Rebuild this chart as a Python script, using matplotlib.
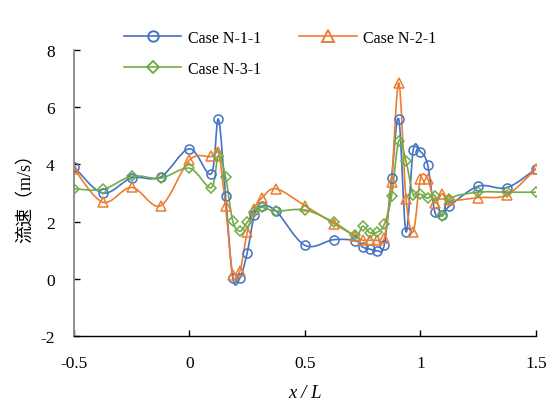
import matplotlib
matplotlib.use("Agg")
import matplotlib.pyplot as plt
import numpy as np
from matplotlib.path import Path
from matplotlib.patches import PathPatch
from matplotlib.lines import Line2D

plt.rcParams['font.family'] = ['Liberation Serif', 'Noto Sans CJK SC']
plt.rcParams['axes.unicode_minus'] = False

# ── Datos ─────────────────────────────────────────────────────────────────
x_n1 = [-0.5, -0.375, -0.25, -0.125, 0.0, 0.09375, 0.125, 0.15625, 0.1875, 0.21875,
        0.25, 0.28125, 0.3125, 0.375, 0.5, 0.625, 0.71875, 0.75, 0.78125, 0.8125,
        0.84375, 0.875, 0.90625, 0.9375, 0.96875, 1.0, 1.03125, 1.0625, 1.09375,
        1.125, 1.25, 1.375, 1.5]
v_n1 = [3.92, 3.0, 3.53, 3.56, 4.55, 3.67, 5.58, 2.9, 0.03, 0.03,
        0.91, 2.24, 2.54, 2.37, 1.17, 1.37, 1.33, 1.11, 1.04, 0.98,
        1.2, 3.53, 5.58, 1.65, 4.51, 4.45, 3.99, 2.33, 2.24,
        2.54, 3.24, 3.19, 3.85]
v_n2 = [3.85, 2.68, 3.2, 2.56, 4.16, 4.28, 4.45, 2.54, 0.12, 0.29,
        1.63, 2.45, 2.82, 3.15, 2.56, 1.93, 1.49, 1.35, 1.35, 1.35,
        1.42, 3.37, 6.85, 2.8, 1.65, 3.5, 3.5, 2.66, 2.98,
        2.74, 2.84, 2.94, 3.85]
v_n3 = [3.15, 3.13, 3.59, 3.52, 3.87, 3.19, 4.31, 3.56, 2.02, 1.67,
        1.98, 2.33, 2.5, 2.37, 2.41, 1.98, 1.52, 1.84, 1.61, 1.63,
        1.91, 2.9, 4.83, 4.11, 2.94, 2.96, 2.82, 2.91, 2.19,
        2.8, 3.03, 3.03, 3.03]

SERIES = [
    ("Case N-1-1", v_n1, "#4472C4", "o"),
    ("Case N-2-1", v_n2, "#ED7D31", "^"),
    ("Case N-3-1", v_n3, "#70AD47", "D"),
]


def curva_suave(xs, ys):
    # Bezier tipo Catmull-Rom, como la línea suavizada de Excel
    p = np.column_stack([xs, ys])
    n = len(p)
    verts = [p[0]]
    codes = [Path.MOVETO]
    for i in range(n - 1):
        p0 = p[i - 1] if i > 0 else p[i]
        p3 = p[i + 2] if i + 2 < n else p[i + 1]
        c1 = p[i] + (p[i + 1] - p0) / 6
        c2 = p[i + 1] - (p3 - p[i]) / 6
        verts += [c1, c2, p[i + 1]]
        codes += [Path.CURVE4] * 3
    return Path(verts, codes)


# ── Figura ────────────────────────────────────────────────────────────────
fig = plt.figure(figsize=(5.48, 4.06), dpi=100)
ax = fig.add_axes([0.135, 0.170, 0.843, 0.704])

handles = []
for nombre, vals, color, mk in SERIES:
    ax.add_patch(PathPatch(curva_suave(x_n1, vals), facecolor='none',
                           edgecolor=color, linewidth=1.2, zorder=2))
    ms = 6.5 if mk == "o" else (7 if mk == "^" else 5.5)
    ax.plot(x_n1, vals, linestyle='none', marker=mk, markersize=ms,
            markerfacecolor='none', markeredgecolor=color, markeredgewidth=1.1, zorder=3)
    handles.append(Line2D([], [], color=color, linewidth=1.2, marker=mk, markersize=ms + 1,
                          markerfacecolor='none', markeredgecolor=color,
                          markeredgewidth=1.4, label=nombre))

# ── Ejes ──────────────────────────────────────────────────────────────────
ax.set_xlim(-0.5, 1.5)
ax.set_ylim(-2, 8)
ax.set_xticks([-0.5, 0, 0.5, 1, 1.5])
ax.set_xticklabels(["-0.5", "0", "0.5", "1", "1.5"])
ax.set_yticks([-2, 0, 2, 4, 6, 8])
ax.tick_params(direction='in', length=4, width=1, labelsize=12.5)
ax.tick_params(axis='x', pad=14)
ax.tick_params(axis='y', pad=14)
for s in ['top', 'right']:
    ax.spines[s].set_visible(False)
ax.spines['left'].set_color('#888888')
ax.spines['left'].set_linewidth(1.3)
ax.spines['bottom'].set_linewidth(1.0)

ax.set_xlabel("x / L", fontsize=13.5, style='italic', labelpad=9)
ax.set_ylabel("流速（m/s）", fontsize=13, labelpad=4)

# orden para que la fila 1 sea N-1-1 / N-2-1
orden = [handles[0], handles[2], handles[1]]
fig.legend(handles=orden, ncol=2, loc='upper left', bbox_to_anchor=(0.2, 0.96),
           frameon=False, fontsize=11.5, handlelength=3.6, columnspacing=2.4,
           handletextpad=0.4, labelspacing=0.95)

plt.savefig("out.png", dpi=100)
